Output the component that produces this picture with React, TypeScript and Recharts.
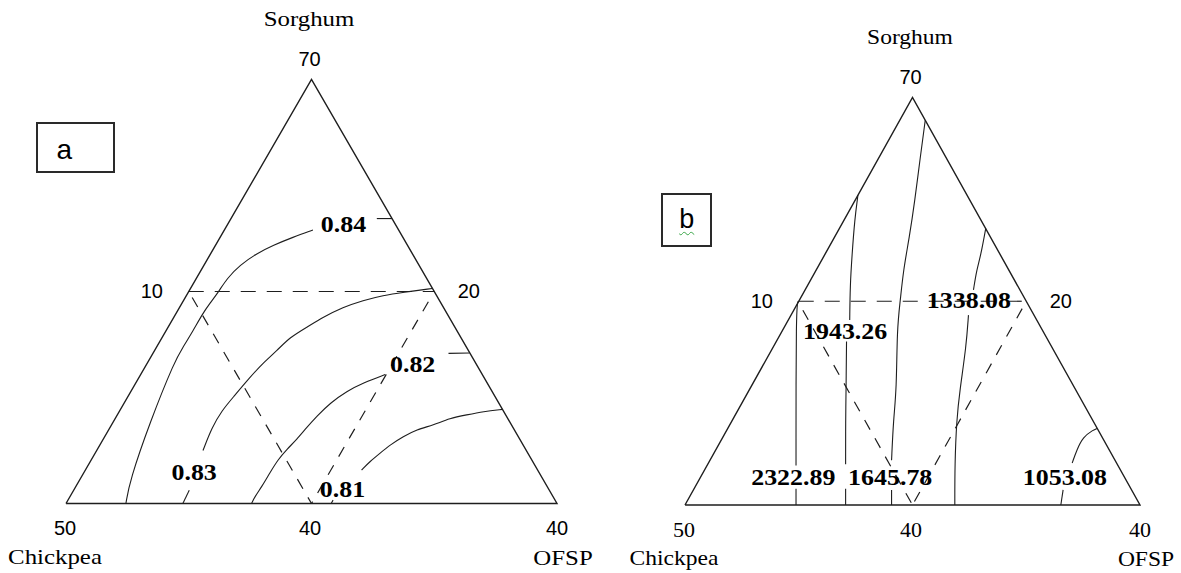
import { ScatterChart, Scatter, XAxis, YAxis } from 'recharts';

// A point inside the mixture triangle: [u, v]
// u runs along the base (0 = Chickpea corner, 1 = OFSP corner), v is height (1 = Sorghum apex)
type Pt = [number, number];

const components = ['Sorghum', 'Chickpea', 'OFSP'];
const cornerTicks = ['70', '50', '40']; // apex, bottom-left, bottom-right
const edgeTicks = ['10', '20', '40']; // left edge, right edge, base (midpoints)

// (a) contour levels, traced paths (broken where the label sits) and label spots
const ratioLevels = ['0.84', '0.83', '0.82', '0.81'];
const ratioPaths: Pt[][][] = [
  [
    [[0.122, 0], [0.130, 0.054], [0.171, 0.192], [0.222, 0.338], [0.238, 0.368], [0.259, 0.408], [0.279, 0.449], [0.293, 0.472], [0.310, 0.498], [0.328, 0.531], [0.354, 0.562], [0.389, 0.590], [0.422, 0.609], [0.462, 0.628], [0.503, 0.645]],
    [[0.633, 0.672], [0.664, 0.672]],
  ],
  [
    [[0.746, 0.507], [0.686, 0.498], [0.646, 0.491], [0.605, 0.479], [0.564, 0.463], [0.523, 0.439], [0.491, 0.416], [0.456, 0.392], [0.430, 0.361], [0.401, 0.331], [0.375, 0.298], [0.340, 0.250], [0.318, 0.220], [0.297, 0.179], [0.279, 0.125]],
    [[0.251, 0.031], [0.238, 0]],
  ],
  [
    [[0.650, 0.304], [0.606, 0.285], [0.572, 0.265], [0.538, 0.237], [0.511, 0.206], [0.490, 0.179], [0.470, 0.151], [0.450, 0.128], [0.432, 0.104], [0.415, 0.072], [0.399, 0.040], [0.385, 0.017], [0.378, 0]],
    [[0.779, 0.354], [0.822, 0.355]],
  ],
  [
    [[0.889, 0.222], [0.850, 0.217], [0.816, 0.209], [0.782, 0.201], [0.748, 0.185], [0.714, 0.174], [0.687, 0.158], [0.660, 0.138], [0.640, 0.119], [0.619, 0.099], [0.602, 0.079]],
    [[0.544, 0.008], [0.540, 0]],
  ],
];
const ratioLabelAt: Pt[] = [[0.565, 0.660], [0.261, 0.074], [0.706, 0.330], [0.563, 0.035]];

// (b) contour levels
const energyLevels = ['2322.89', '1943.26', '1645.78', '1338.08', '1053.08'];
const energyPaths: Pt[][][] = [
  [
    [[0.249, 0.5], [0.244, 0.49], [0.244, 0.097]],
    [[0.244, 0.04], [0.244, 0]],
  ],
  [
    [[0.380, 0.760], [0.373, 0.701], [0.367, 0.612], [0.363, 0.540], [0.362, 0.454]],
    [[0.355, 0.401], [0.354, 0.282], [0.353, 0.209], [0.353, 0.100]],
    [[0.353, 0.040], [0.353, 0]],
  ],
  [
    [[0.528, 0.944], [0.517, 0.853], [0.505, 0.746], [0.493, 0.656], [0.480, 0.577], [0.473, 0.5], [0.466, 0.433], [0.465, 0.282], [0.458, 0.209], [0.454, 0.11]],
    [[0.454, 0.037], [0.454, 0]],
  ],
  [
    [[0.661, 0.679], [0.650, 0.612], [0.641, 0.577], [0.634, 0.528]],
    [[0.623, 0.466], [0.618, 0.388], [0.604, 0.282], [0.597, 0.209], [0.593, 0.1], [0.593, 0]],
  ],
  [
    [[0.906, 0.188], [0.897, 0.184], [0.875, 0.167], [0.861, 0.135], [0.851, 0.103]],
    [[0.831, 0.037], [0.826, 0]],
  ],
];
const energyLabelAt: Pt[] = [[0.238, 0.069], [0.352, 0.428], [0.451, 0.069], [0.624, 0.503], [0.835, 0.069]];

// dashed constraint lines
const dashedA: Pt[][] = [[[0.25, 0.5], [0.75, 0.5]], [[0.257, 0.486], [0.5, 0]], [[0.738, 0.476], [0.5, 0]]];
const dashedB: Pt[][] = [[[0.25, 0.5], [0.746, 0.5]], [[0.259, 0.478], [0.5, 0]], [[0.741, 0.482], [0.5, 0]]];

const SERIF = '"Liberation Serif", "Times New Roman", serif';
const SANS = '"Liberation Sans", Arial, sans-serif';
const INK = '#1e1e1e';

interface Frame {
  left: number; // page offset of the chart
  width: number;
  height: number;
  x0: number; // pixel of u = 0
  x1: number; // pixel of u = 1
  base: number; // pixel of v = 0
  apex: number; // pixel of v = 1
}

const frameA: Frame = { left: 0, width: 600, height: 573, x0: 66, x1: 557, base: 503.5, apex: 79.5 };
const frameB: Frame = { left: 590, width: 591, height: 573, x0: 95, x1: 550, base: 505, apex: 97.5 };

interface Label {
  x: number;
  y: number;
  text: string;
  dx: number;
  dy: number;
  font: string;
  size: number;
  bold?: boolean;
  sx?: number;
}

const toXY = ([u, v]: Pt) => ({ x: u, y: v });
const noDot = () => <g />;

const renderLabel = (props: any) => {
  const t: Label = props.payload;
  const x = props.cx + t.dx;
  const y = props.cy + t.dy;
  return (
    <text
      transform={`translate(${x},${y}) scale(${t.sx ?? 1},1)`}
      textAnchor="middle"
      fontFamily={t.font}
      fontSize={t.size}
      fontWeight={t.bold ? 700 : 400}
      fill="#000"
    >
      {t.text}
    </text>
  );
};

interface PanelProps {
  frame: Frame;
  levels: string[];
  paths: Pt[][][];
  labelAt: Pt[];
  dashed: Pt[][];
  nameStretch: number;
  baseTickFont: string;
  baseTickSize: number;
}

function TernaryPanel({ frame, levels, paths, labelAt, dashed, nameStretch, baseTickFont, baseTickSize }: PanelProps) {
  const span = frame.x1 - frame.x0;
  const rise = frame.base - frame.apex;
  const xDomain = [-frame.x0 / span, (frame.width - frame.x0) / span];
  const yDomain = [-(frame.height - frame.base) / rise, frame.base / rise];

  const outline: Pt[] = [[0, 0], [1, 0], [0.5, 1], [0, 0]];
  const apex = { x: 0.5, y: 1 };
  const left = { x: 0, y: 0 };
  const right = { x: 1, y: 0 };

  const axisLabels: Label[] = [
    { ...apex, text: components[0], dx: -2.5, dy: -53.5, font: SERIF, size: 22, sx: nameStretch },
    { ...left, text: components[1], dx: -11, dy: 60, font: SERIF, size: 22, sx: nameStretch },
    { ...right, text: components[2], dx: 6, dy: 61, font: SERIF, size: 22, sx: nameStretch },
    { ...apex, text: cornerTicks[0], dx: -2, dy: -13.5, font: SANS, size: 20 },
    { ...left, text: cornerTicks[1], dx: -1, dy: 31.5, font: baseTickFont, size: baseTickSize },
    { ...right, text: cornerTicks[2], dx: 0, dy: 31.5, font: baseTickFont, size: baseTickSize },
    { x: 0.25, y: 0.5, text: edgeTicks[0], dx: -37, dy: 6.5, font: SANS, size: 20 },
    { x: 0.75, y: 0.5, text: edgeTicks[1], dx: 34.5, dy: 6.5, font: SANS, size: 20 },
    { x: 0.5, y: 0, text: edgeTicks[2], dx: -1.5, dy: 31.5, font: baseTickFont, size: baseTickSize },
  ];

  const levelLabels: Label[] = levels.map((text, i) => ({
    ...toXY(labelAt[i]),
    text,
    dx: 0,
    dy: 8.2,
    font: SERIF,
    size: 24,
    bold: true,
    sx: 1.08,
  }));

  return (
    <div style={{ position: 'absolute', left: frame.left, top: 0 }}>
      <ScatterChart width={frame.width} height={frame.height} margin={{ top: 0, right: 0, bottom: 0, left: 0 }}>
        <XAxis type="number" dataKey="x" domain={xDomain} allowDataOverflow hide />
        <YAxis type="number" dataKey="y" domain={yDomain} allowDataOverflow hide />

        <Scatter
          data={outline.map(toXY)}
          line={{ stroke: INK, strokeWidth: 1.4 }}
          shape={noDot}
          isAnimationActive={false}
        />

        {dashed.map((seg, i) => (
          <Scatter
            key={`dash-${i}`}
            data={seg.map(toXY)}
            line={{ stroke: INK, strokeWidth: 1.2, strokeDasharray: i === 0 ? '15 11' : '11 10' }}
            shape={noDot}
            isAnimationActive={false}
          />
        ))}

        {paths.flatMap((segments, li) =>
          segments.map((seg, si) => (
            <Scatter
              key={`contour-${li}-${si}`}
              data={seg.map(toXY)}
              line={{ stroke: INK, strokeWidth: 1.1 }}
              lineJointType={seg.length > 2 ? 'basis' : 'linear'}
              shape={noDot}
              isAnimationActive={false}
            />
          ))
        )}

        <Scatter data={levelLabels} shape={renderLabel} isAnimationActive={false} />
        <Scatter data={axisLabels} shape={renderLabel} isAnimationActive={false} />
      </ScatterChart>
    </div>
  );
}

const tagBox = {
  position: 'absolute' as const,
  border: '2px solid #2a2a2a',
  boxSizing: 'border-box' as const,
  background: '#fff',
};

export default function App() {
  return (
    <div style={{ position: 'absolute', left: 0, top: 0, width: 1181, height: 573, background: '#fff', overflow: 'hidden' }}>
      <TernaryPanel
        frame={frameA}
        levels={ratioLevels}
        paths={ratioPaths}
        labelAt={ratioLabelAt}
        dashed={dashedA}
        nameStretch={1.13}
        baseTickFont={SANS}
        baseTickSize={20}
      />
      <TernaryPanel
        frame={frameB}
        levels={energyLevels}
        paths={energyPaths}
        labelAt={energyLabelAt}
        dashed={dashedB}
        nameStretch={1.07}
        baseTickFont={SERIF}
        baseTickSize={22}
      />

      <div style={{ ...tagBox, left: 36, top: 121.7, width: 78.7, height: 51.6 }}>
        <span style={{ position: 'absolute', left: 18.6, top: 12.6, fontFamily: SANS, fontSize: 28, lineHeight: '28px' }}>
          a
        </span>
      </div>
      <div style={{ ...tagBox, left: 661, top: 193.3, width: 50.7, height: 53.4 }}>
        <span
          style={{
            position: 'absolute',
            left: 16.2,
            top: 11.2,
            fontFamily: SANS,
            fontSize: 27,
            lineHeight: '27px',
            textDecoration: 'underline wavy #3aa648',
            textDecorationThickness: '1px',
            textUnderlineOffset: '3px',
          }}
        >
          b
        </span>
      </div>
    </div>
  );
}
